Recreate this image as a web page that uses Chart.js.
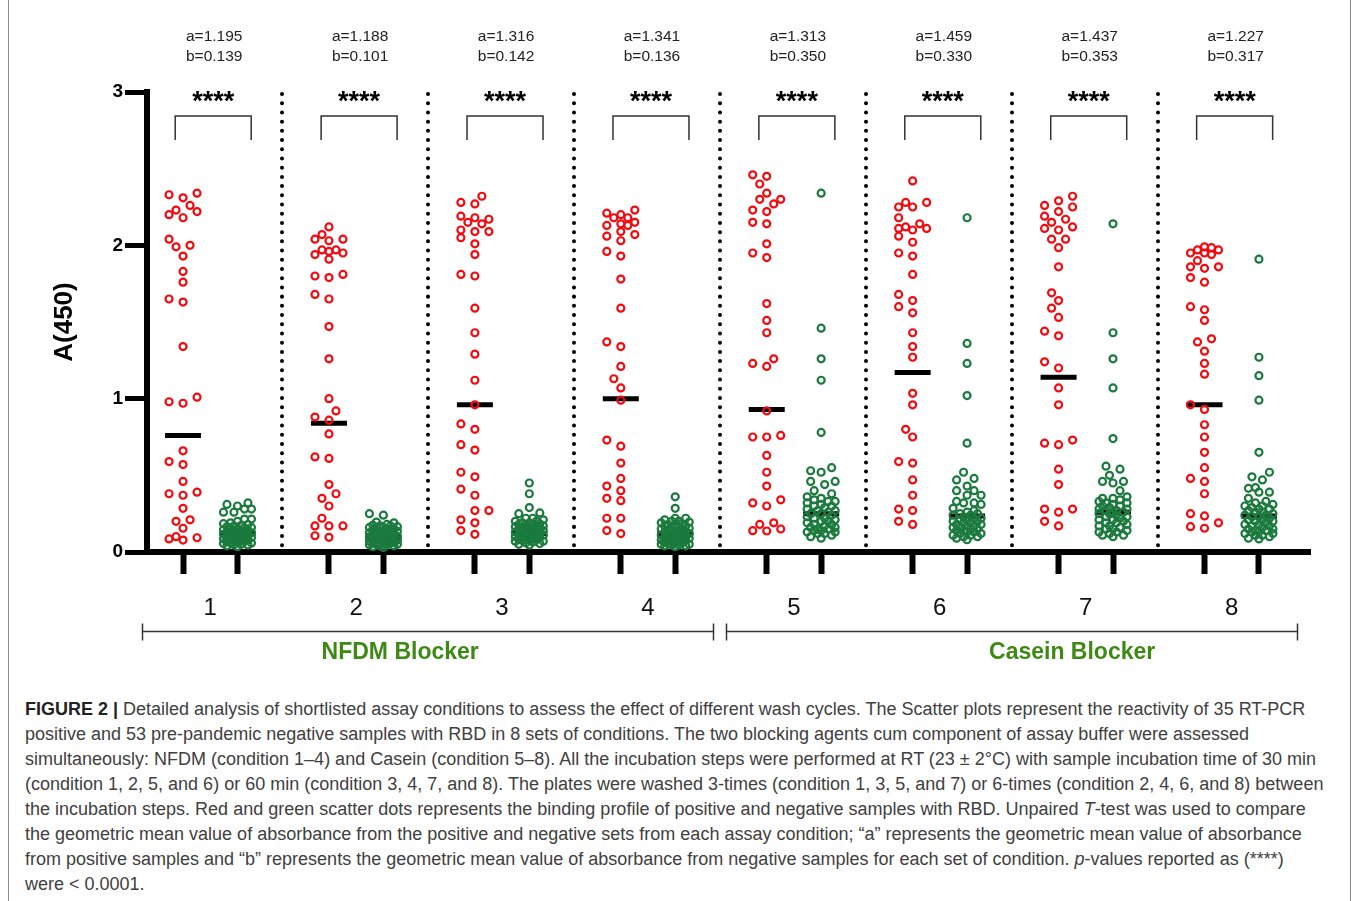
<!DOCTYPE html>
<html>
<head>
<meta charset="utf-8">
<title>Figure 2</title>
<script src="https://cdn.jsdelivr.net/npm/chart.js@4.4.1/dist/chart.umd.min.js"></script>
<style>
  html, body { margin: 0; padding: 0; background: #fff; }
  body { width: 1357px; height: 901px; position: relative; overflow: hidden; font-family: "Liberation Sans", Arial, sans-serif; }
  #frame { position: absolute; left: 8px; top: -12px; width: 1343px; height: 925px; border: 1px solid #8c8c8c; border-radius: 6px; box-sizing: border-box; }
  #fig { position: absolute; left: 0; top: 0; }
  #caption { position: absolute; left: 25px; top: 697px; font-size: 18px; line-height: 25px; color: #404040; white-space: nowrap; }
  #caption b { color: #222; }
</style>
</head>
<body>
<div id="frame"></div>
<canvas id="fig" width="1357" height="680"></canvas>
<div id="caption">
  <div><b>FIGURE 2 |</b> Detailed analysis of shortlisted assay conditions to assess the effect of different wash cycles. The Scatter plots represent the reactivity of 35 RT-PCR</div>
  <div>positive and 53 pre-pandemic negative samples with RBD in 8 sets of conditions. The two blocking agents cum component of assay buffer were assessed</div>
  <div>simultaneously: NFDM (condition 1&ndash;4) and Casein (condition 5&ndash;8). All the incubation steps were performed at RT (23 &plusmn; 2&deg;C) with sample incubation time of 30 min</div>
  <div>(condition 1, 2, 5, and 6) or 60 min (condition 3, 4, 7, and 8). The plates were washed 3-times (condition 1, 3, 5, and 7) or 6-times (condition 2, 4, 6, and 8) between</div>
  <div>the incubation steps. Red and green scatter dots represents the binding profile of positive and negative samples with RBD. Unpaired <i>T</i>-test was used to compare</div>
  <div>the geometric mean value of absorbance from the positive and negative sets from each assay condition; &ldquo;a&rdquo; represents the geometric mean value of absorbance</div>
  <div>from positive samples and &ldquo;b&rdquo; represents the geometric mean value of absorbance from negative samples for each set of condition. <i>p</i>-values reported as (****)</div>
  <div>were &lt; 0.0001.</div>
</div>
<script>
/*
*  Figure 2: A(450) scatter of positive (red) and negative (green) samples, 8 assay conditions
*/

const groups = ['1', '2', '3', '4', '5', '6', '7', '8'];
const yTicks = [0, 1, 2, 3];

// positive samples (n=35 each)
const pos1 = [2.34,2.31,2.33,2.26,2.22,2.18,2.20,2.23,2.04,1.99,2.00,1.93,1.83,1.76,1.63,1.65,1.34,1.01,0.97,0.98,0.66,0.57,0.59,0.46,0.39,0.37,0.38,0.285,0.20,0.21,0.155,0.093,0.078,0.085,0.10];
const pos2 = [2.12,2.04,2.03,2.04,2.07,1.97,1.95,1.91,1.94,1.96,1.97,1.81,1.79,1.80,1.65,1.68,1.47,1.26,1.00,0.92,0.86,0.88,0.77,0.61,0.62,0.44,0.38,0.35,0.30,0.22,0.17,0.17,0.17,0.096,0.106];
const pos3 = [2.32,2.27,2.28,2.18,2.15,2.10,2.14,2.17,2.19,2.09,2.09,2.05,2.01,1.94,1.80,1.81,1.59,1.43,1.29,1.12,0.96,0.80,0.835,0.665,0.70,0.49,0.52,0.37,0.41,0.27,0.27,0.19,0.21,0.14,0.115];
const pos4 = [2.23,2.20,2.21,2.18,2.18,2.14,2.13,2.13,2.15,2.07,2.03,2.06,2.09,1.93,1.96,1.78,1.59,1.34,1.37,1.21,1.13,1.07,0.99,0.69,0.73,0.58,0.48,0.43,0.40,0.335,0.35,0.22,0.22,0.12,0.14];
const pos5 = [2.46,2.45,2.40,2.34,2.30,2.30,2.27,2.22,2.23,2.14,2.15,2.01,1.95,1.92,1.62,1.51,1.43,1.26,1.21,1.23,0.92,0.76,0.75,0.75,0.63,0.52,0.43,0.34,0.32,0.30,0.19,0.15,0.137,0.139,0.18];
const pos6 = [2.42,2.28,2.25,2.25,2.28,2.18,2.14,2.11,2.10,2.12,2.11,2.06,2.02,1.93,1.95,1.81,1.68,1.64,1.60,1.56,1.43,1.34,1.27,1.035,0.96,0.75,0.80,0.58,0.59,0.47,0.37,0.27,0.28,0.18,0.20];
const pos7 = [2.32,2.26,2.29,2.22,2.25,2.17,2.19,2.12,2.10,2.11,2.15,2.04,2.04,1.985,1.86,1.69,1.64,1.59,1.53,1.44,1.41,1.20,1.24,1.07,0.96,0.73,0.70,0.71,0.54,0.44,0.28,0.26,0.28,0.17,0.20];
const pos8 = [1.99,1.97,1.95,1.94,1.95,1.97,1.985,1.86,1.85,1.86,1.90,1.79,1.76,1.58,1.60,1.51,1.39,1.37,1.31,1.23,1.16,0.96,0.93,0.83,0.75,0.65,0.55,0.46,0.48,0.38,0.25,0.235,0.19,0.155,0.165];

// negative samples (n=53 each), dense low cluster estimated
const neg1 = [0.31,0.32,0.30,0.28,0.28,0.26,0.26,0.215,0.215,0.20,0.19,0.185,0.18,0.172,0.17,0.165,0.16,0.158,0.15,0.148,0.145,0.14,0.138,0.135,0.13,0.128,0.125,0.12,0.118,0.115,0.11,0.108,0.105,0.10,0.098,0.095,0.09,0.088,0.085,0.08,0.078,0.075,0.07,0.068,0.065,0.06,0.058,0.055,0.05,0.048,0.045,0.04,0.035];
const neg2 = [0.25,0.24,0.195,0.19,0.18,0.175,0.17,0.17,0.165,0.16,0.16,0.155,0.15,0.15,0.145,0.14,0.14,0.135,0.13,0.13,0.125,0.12,0.12,0.115,0.11,0.11,0.105,0.10,0.10,0.098,0.095,0.09,0.09,0.085,0.08,0.08,0.078,0.075,0.07,0.07,0.065,0.06,0.06,0.058,0.055,0.05,0.05,0.048,0.045,0.04,0.04,0.035,0.03];
const neg3 = [0.45,0.38,0.29,0.255,0.25,0.22,0.22,0.21,0.20,0.20,0.19,0.19,0.185,0.18,0.18,0.175,0.17,0.17,0.165,0.16,0.16,0.155,0.15,0.15,0.145,0.14,0.14,0.135,0.13,0.13,0.125,0.12,0.12,0.115,0.11,0.11,0.105,0.10,0.10,0.095,0.09,0.09,0.085,0.08,0.08,0.075,0.07,0.07,0.065,0.06,0.055,0.05,0.045];
const neg4 = [0.36,0.285,0.22,0.22,0.21,0.20,0.20,0.195,0.19,0.185,0.18,0.175,0.17,0.17,0.165,0.16,0.155,0.15,0.15,0.145,0.14,0.135,0.13,0.13,0.125,0.12,0.12,0.115,0.11,0.11,0.105,0.10,0.10,0.095,0.09,0.09,0.085,0.08,0.08,0.075,0.07,0.07,0.065,0.06,0.06,0.055,0.05,0.05,0.045,0.045,0.04,0.04,0.035];
const neg5 = [2.34,1.46,1.26,1.12,0.78,0.55,0.53,0.52,0.46,0.46,0.44,0.40,0.38,0.36,0.35,0.34,0.33,0.33,0.32,0.31,0.30,0.30,0.29,0.28,0.27,0.27,0.26,0.25,0.25,0.24,0.23,0.22,0.22,0.21,0.20,0.20,0.19,0.18,0.18,0.17,0.16,0.16,0.15,0.15,0.14,0.14,0.13,0.13,0.12,0.12,0.11,0.10,0.09];
const neg6 = [2.18,1.36,1.23,1.02,0.71,0.52,0.48,0.47,0.43,0.40,0.40,0.37,0.37,0.33,0.32,0.32,0.31,0.285,0.27,0.26,0.25,0.25,0.24,0.24,0.23,0.22,0.22,0.21,0.21,0.20,0.20,0.19,0.19,0.18,0.18,0.17,0.17,0.16,0.16,0.15,0.15,0.14,0.14,0.13,0.13,0.12,0.12,0.11,0.11,0.10,0.10,0.09,0.08];
const neg7 = [2.14,1.43,1.26,1.07,0.74,0.56,0.54,0.50,0.46,0.46,0.45,0.40,0.36,0.35,0.35,0.34,0.33,0.32,0.32,0.31,0.30,0.30,0.29,0.28,0.28,0.27,0.27,0.26,0.26,0.25,0.25,0.24,0.23,0.23,0.22,0.21,0.21,0.20,0.19,0.19,0.18,0.17,0.17,0.16,0.15,0.15,0.14,0.13,0.13,0.12,0.11,0.11,0.10];
const neg8 = [1.91,1.27,1.15,0.99,0.65,0.52,0.49,0.47,0.42,0.415,0.39,0.39,0.35,0.33,0.32,0.31,0.30,0.30,0.29,0.28,0.28,0.27,0.26,0.26,0.25,0.24,0.24,0.23,0.23,0.22,0.21,0.21,0.20,0.20,0.19,0.18,0.18,0.17,0.17,0.16,0.15,0.15,0.14,0.14,0.13,0.13,0.12,0.12,0.11,0.11,0.10,0.09,0.085];

// horizontal bars drawn in each column
const posBar = [0.76, 0.84, 0.96, 1.00, 0.93, 1.17, 1.14, 0.96];
const negBar = [0.12, 0.10, 0.12, 0.12, 0.25, 0.235, 0.26, 0.235];

// geometric means printed above each condition
const aMean = [1.195, 1.188, 1.316, 1.341, 1.313, 1.459, 1.437, 1.227];
const bMean = [0.139, 0.101, 0.142, 0.136, 0.350, 0.330, 0.353, 0.317];

const blockers = ['NFDM Blocker', 'Casein Blocker'];
const blockerGroups = [[0, 3], [4, 7]];

const posSets = [pos1, pos2, pos3, pos4, pos5, pos6, pos7, pos8];
const negSets = [neg1, neg2, neg3, neg4, neg5, neg6, neg7, neg8];

// layout inside one condition (x units, one condition = 1)
const RED_X = 0.247, GREEN_X = 0.62, MID_X = 0.433, DIVIDER_X = 0.925;
const BLOCKER_LABEL_X = [1.735, 6.34];
const FONT = '"Liberation Sans", Arial, Helvetica, sans-serif';
const RED = '#f20a0f', GREEN = '#1b7a3d', LABEL_GREEN = '#3e8914';

let xTicks = [];
groups.forEach((name, g) => {
    xTicks.push({ value: g + RED_X, label: '' });
    xTicks.push({ value: g + MID_X, label: name });
    xTicks.push({ value: g + GREEN_X, label: '' });
});

// beeswarm spread, in pixels, computed from the values themselves
function swarmOffsets(values, pxPerY, step, maxSteps, minDist) {
    let order = values.map((v, i) => i).sort((a, b) => values[a] - values[b]);
    let candidates = [0];
    for (let k = 1; k <= maxSteps; k++) candidates.push(-k * step, k * step);
    let placed = [];
    let offsets = new Array(values.length).fill(0);
    order.forEach((i) => {
        let py = values[i] * pxPerY;
        let best = 0, bestGap = -1;
        for (const dx of candidates) {
            let gap = Infinity;
            placed.forEach((p) => { gap = Math.min(gap, Math.hypot(p.dx - dx, p.py - py)); });
            if (gap >= minDist) { best = dx; break; }
            if (gap > bestGap) { bestGap = gap; best = dx; }
        }
        placed.push({ dx: best, py: py });
        offsets[i] = best;
    });
    return offsets;
}

function buildPoints(sets, baseX, pxPerX, pxPerY, step, maxSteps) {
    let pts = [];
    sets.forEach((vals, g) => {
        let offs = swarmOffsets(vals, pxPerY, step, maxSteps, 9.5);
        vals.forEach((v, i) => pts.push({ x: g + baseX + offs[i] / pxPerX, y: v }));
    });
    return pts;
}

const figureMarks = {
    id: 'figureMarks',
    beforeDatasetsDraw(chart) {
        const { ctx, chartArea, scales: { x } } = chart;
        ctx.save();
        ctx.strokeStyle = '#000';
        ctx.lineWidth = 4;
        ctx.lineCap = 'round';
        ctx.setLineDash([0.01, 9.2]);
        for (let g = 0; g < groups.length - 1; g++) {
            let px = Math.round(x.getPixelForValue(g + DIVIDER_X));
            ctx.beginPath();
            ctx.moveTo(px, chartArea.top + 2);
            ctx.lineTo(px, chartArea.bottom - 4);
            ctx.stroke();
        }
        ctx.restore();
    },
    afterDraw(chart) {
        const { ctx, chartArea, scales: { x } } = chart;
        const top = chartArea.top, bottom = chartArea.bottom;
        ctx.save();
        ctx.textAlign = 'center';
        groups.forEach((name, g) => {
            let cx = x.getPixelForValue(g + MID_X);
            // geometric means
            ctx.fillStyle = '#222';
            ctx.font = '15.5px ' + FONT;
            ctx.textBaseline = 'middle';
            ctx.fillText('a=' + aMean[g].toFixed(3), cx + 4, top - 55);
            ctx.fillText('b=' + bMean[g].toFixed(3), cx + 4, top - 35);
            // significance
            ctx.fillStyle = '#000';
            ctx.font = 'bold 27px ' + FONT;
            ctx.textBaseline = 'alphabetic';
            ctx.fillText('****', cx + 3, top + 18);
            // bracket
            ctx.strokeStyle = '#333';
            ctx.lineWidth = 1.5;
            ctx.beginPath();
            ctx.moveTo(cx - 35, top + 48);
            ctx.lineTo(cx - 35, top + 24);
            ctx.lineTo(cx + 41, top + 24);
            ctx.lineTo(cx + 41, top + 48);
            ctx.stroke();
        });
        // blocker brackets below the axis
        ctx.strokeStyle = '#333';
        ctx.lineWidth = 1.5;
        blockers.forEach((name, b) => {
            let x0 = Math.round(x.getPixelForValue(blockerGroups[b][0] + RED_X - 0.28)) + 0.5;
            let x1 = Math.round(x.getPixelForValue(blockerGroups[b][1] + GREEN_X + 0.26)) + 0.5;
            let ly = bottom + 79.5;
            ctx.beginPath();
            ctx.moveTo(x0, ly - 8); ctx.lineTo(x0, ly + 9);
            ctx.moveTo(x0, ly); ctx.lineTo(x1, ly);
            ctx.moveTo(x1, ly - 8); ctx.lineTo(x1, ly + 9);
            ctx.stroke();
            ctx.fillStyle = LABEL_GREEN;
            ctx.font = 'bold 23px ' + FONT;
            ctx.textBaseline = 'middle';
            ctx.fillText(name, x.getPixelForValue(BLOCKER_LABEL_X[b]), bottom + 101);
        });
        ctx.restore();
    }
};

const canvas = document.getElementById('fig');
const chart = new Chart(canvas, {
    type: 'scatter',
    data: {
        datasets: [
            { label: 'positive', data: [], pointStyle: 'circle', pointRadius: 3.5, pointBorderWidth: 2.2,
              borderColor: RED, backgroundColor: 'rgba(0,0,0,0)', order: 0 },
            { label: 'negative', data: [], pointStyle: 'circle', pointRadius: 3.5, pointBorderWidth: 2.2,
              borderColor: GREEN, backgroundColor: 'rgba(0,0,0,0)', order: 0 },
            { label: 'positive bar', data: posBar.map((v, g) => ({ x: g + RED_X, y: v })),
              pointStyle: 'line', pointRadius: 18, pointBorderWidth: 5, borderColor: '#000', order: 1 },
            { label: 'negative bar', data: negBar.map((v, g) => ({ x: g + GREEN_X, y: v })),
              pointStyle: 'line', pointRadius: 18, pointBorderWidth: 5, borderColor: '#000', order: 1 },
        ],
    },
    options: {
        responsive: false,
        animation: false,
        events: [],
        devicePixelRatio: 1,
        layout: { padding: { left: 40, right: 47, top: 92, bottom: 48 } },
        plugins: {
            legend: { display: false },
            tooltip: { enabled: false },
        },
        scales: {
            x: {
                type: 'linear',
                min: 0,
                max: 7.97,
                afterBuildTicks: (scale) => { scale.ticks = xTicks.map((t) => ({ value: t.value })); },
                afterFit: (scale) => { scale.height = 80; },
                ticks: {
                    autoSkip: false, maxRotation: 0, minRotation: 0, padding: 20,
                    font: { size: 24, family: FONT }, color: '#111',
                    callback: (value, index) => xTicks[index] ? xTicks[index].label : '',
                },
                grid: {
                    drawOnChartArea: false, tickLength: 22, tickWidth: 6,
                    tickColor: (c) => (xTicks[c.index] && xTicks[c.index].label) ? 'rgba(0,0,0,0)' : '#000',
                },
                border: { color: '#000', width: 6 },
            },
            y: {
                min: 0,
                max: 3,
                afterBuildTicks: (scale) => { scale.ticks = yTicks.map((v) => ({ value: v })); },
                afterFit: (scale) => { scale.width = 107; },
                ticks: { padding: 2, font: { size: 19, weight: 'bold', family: FONT }, color: '#000' },
                grid: { drawOnChartArea: false, tickLength: 22, tickWidth: 5, tickColor: '#000' },
                border: { color: '#000', width: 6 },
                title: {
                    display: true, text: 'A(450)', color: '#000',
                    font: { size: 26, weight: 'bold', family: FONT },
                    padding: { top: 9, bottom: 0 },
                },
            },
        },
    },
    plugins: [figureMarks],
});

// spread the dots once the scales know their pixel size
let pxPerX = chart.scales.x.getPixelForValue(1) - chart.scales.x.getPixelForValue(0);
let pxPerY = chart.scales.y.getPixelForValue(0) - chart.scales.y.getPixelForValue(1);
chart.data.datasets[0].data = buildPoints(posSets, RED_X, pxPerX, pxPerY, 7, 2);
chart.data.datasets[1].data = buildPoints(negSets, GREEN_X, pxPerX, pxPerY, 3.5, 4);
chart.update('none');
</script>
</body>
</html>
